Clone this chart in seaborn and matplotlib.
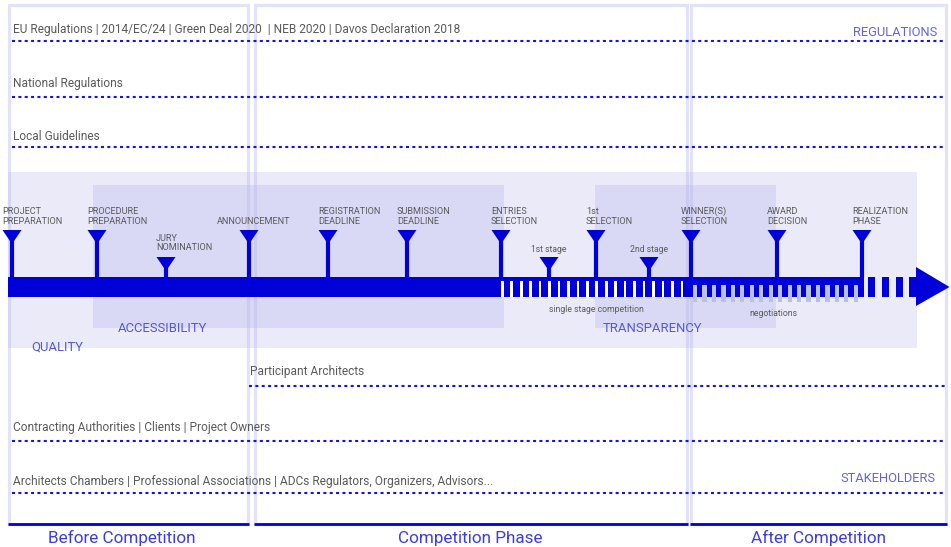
import matplotlib
matplotlib.use("Agg")
import matplotlib.pyplot as plt
from matplotlib.patches import Rectangle, Polygon
import seaborn as sns
import numpy as np
import pandas as pd

# phases (left edge, right edge along the timeline)
phase_names = ["Before Competition", "Competition Phase", "After Competition"]
phase_start = [9, 254.5, 691]
phase_end = [248, 687, 945.5]

# regulation / stakeholder rows
row_labels = [
    "EU Regulations | 2014/EC/24 | Green Deal 2020  | NEB 2020 | Davos Declaration 2018",
    "National Regulations",
    "Local Guidelines",
    "Participant Architects",
    "Contracting Authorities | Clients | Project Owners",
    "Architects Chambers | Professional Associations | ADCs Regulators, Organizers, Advisors...",
]
row_y = [41, 97, 147, 386, 441, 493]
row_start = [12, 12, 12, 249, 12, 12]

# milestones on the timeline
milestone_labels = [
    "PROJECT\nPREPARATION", "PROCEDURE\nPREPARATION", "JURY\nNOMINATION",
    "ANNOUNCEMENT", "REGISTRATION\nDEADLINE", "SUBMISSION\nDEADLINE",
    "ENTRIES\nSELECTION", "1st stage", "1st\nSELECTION", "2nd stage",
    "WINNER(S)\nSELECTION", "AWARD\nDECISION", "REALIZATION\nPHASE",
]
milestone_x = [12, 97, 166, 249, 328, 407, 501, 549, 596, 649, 691, 777, 862]
milestone_minor = [False, False, True, False, False, False, False,
                   True, False, True, False, False, False]

# value areas
area_labels = ["QUALITY", "ACCESSIBILITY", "TRANSPARENCY"]
area_x0 = [8, 93, 595]
area_x1 = [917, 504, 776]
area_y0 = [172, 185, 185]
area_y1 = [348, 328, 328]

BLUE = "#0000d8"
TEXT = "#5a5a5a"

sns.set_theme(style="white")
plt.rcParams["font.family"] = ["Roboto", "DejaVu Sans"]

fig = plt.figure(figsize=(9.51, 5.47), dpi=100)
ax = fig.add_axes([0, 0, 1, 1])

# shaded value areas
for i, lab in enumerate(area_labels):
    col = "#eaeaf9" if i == 0 else "#d9d9f5"
    ax.add_patch(Rectangle((area_x0[i], area_y0[i]), area_x1[i] - area_x0[i],
                           area_y1[i] - area_y0[i], color=col, lw=0, zorder=1))
label_pos = [(57, 347), (162, 328), (652, 328)]
for lab, (lx, ly) in zip(area_labels, label_pos):
    ax.text(lx, ly, lab, ha="center", va="center", fontsize=9.4,
            color="#5656d8", zorder=6)

# phase frames
label_x = [122, 470.5, 818.5]
for name, x0, x1, lx in zip(phase_names, phase_start, phase_end, label_x):
    ax.add_patch(Rectangle((x0, 5), x1 - x0, 519, fill=False,
                           edgecolor="#b8b8ee", alpha=0.4, lw=2.3, zorder=2))
    ax.plot([x0 - 1, x1 + 1], [524, 524], color=BLUE, lw=2, zorder=3,
            solid_capstyle="butt")
    ax.text(lx, 538, name, ha="center", va="center", fontsize=12.3,
            color="#3c3ce6")

# dotted guide rows
rows = pd.DataFrame({
    "x": row_start + [946] * len(row_y),
    "y": row_y * 2,
    "row": list(range(len(row_y))) * 2,
})
sns.lineplot(data=rows, x="x", y="y", units="row", estimator=None, ax=ax,
             color="#1414e0", lw=1.5, linestyle=(0, (1.45, 1.6)),
             legend=False, zorder=4)
ax.set_xlim(0, 951)
ax.set_ylim(547, 0)
ax.axis("off")
label_gap = [11, 13, 11, 14, 13, 11]
for lab, y, x0, g in zip(row_labels, row_y, row_start, label_gap):
    ax.text(x0 + 1, y - g, lab, ha="left", va="center", fontsize=8.6,
            color=TEXT, zorder=6)
ax.text(937, 33, "REGULATIONS", ha="right", va="center", fontsize=9.3,
        color="#6464d8")
ax.text(935, 478, "STAKEHOLDERS", ha="right", va="center", fontsize=9.3,
        color="#6464d8")

# timeline bar
bar_top, bar_bot = 277, 297
ax.add_patch(Rectangle((8, bar_top), 501 - 8, bar_bot - bar_top, color=BLUE,
                       lw=0, zorder=5))
# single stage competition: white stripes
ax.add_patch(Rectangle((501, bar_top), 691 - 501, bar_bot - bar_top,
                       color=BLUE, lw=0, zorder=5))
for sx in np.arange(501, 690, 9.45):
    ax.add_patch(Rectangle((sx, 280.5), 2.6, bar_bot - 280.5, color="white",
                           lw=0, zorder=5))
# negotiations: solid top, grey stripes below
ax.add_patch(Rectangle((691, bar_top), 864 - 691, bar_bot - bar_top,
                       color=BLUE, lw=0, zorder=5))
for sx in np.arange(693, 862, 9.45):
    ax.add_patch(Rectangle((sx, 285), 4.2, 17, color="#b9c0e2", lw=0,
                           zorder=5))
# dashed tail and arrow head
for sx in np.arange(868, 912, 13.8):
    ax.add_patch(Rectangle((sx, bar_top), 7, bar_bot - bar_top, color=BLUE,
                           lw=0, zorder=5))
ax.add_patch(Polygon([(916, 267), (949.5, 287), (916, 306)], closed=True,
                     color=BLUE, lw=0, zorder=5))
ax.text(596, 309, "single stage competition", ha="center", va="center",
        fontsize=6.2, color=TEXT, zorder=6)
ax.text(773, 314, "negotiations", ha="center", va="center", fontsize=6.2,
        color=TEXT, zorder=6)

# milestones
for lab, mx, minor in zip(milestone_labels, milestone_x, milestone_minor):
    top = 257 if minor else 230
    ax.plot([mx, mx], [top + 8, bar_top], color=BLUE, lw=3, zorder=5,
            solid_capstyle="butt")
    ax.add_patch(Polygon([(mx - 9.5, top), (mx + 9.5, top), (mx, top + 14)],
                         closed=True, color=BLUE, lw=0, zorder=5))
    if lab in ("1st stage", "2nd stage"):
        ax.text(mx, top - 7.5, lab, ha="center", va="center", fontsize=6.2,
                color=TEXT, zorder=6)
    else:
        lx = mx - 32 if lab == "ANNOUNCEMENT" else mx - 10
        ax.text(lx, top - 4.5, lab, ha="left", va="bottom", fontsize=6.6,
                color=TEXT, linespacing=1.05, zorder=6)

fig.savefig("out.png", dpi=100, facecolor="white")
